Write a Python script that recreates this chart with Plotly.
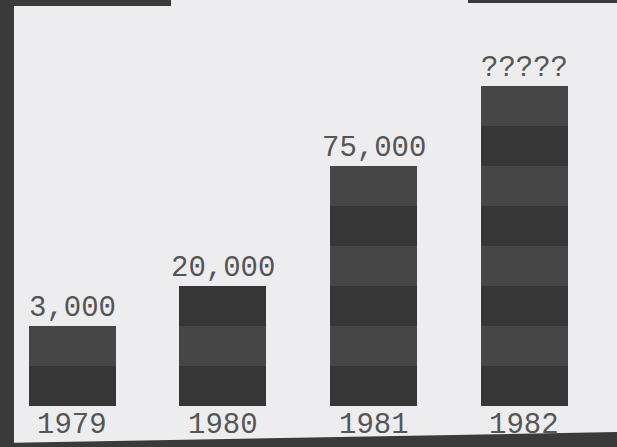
import plotly.graph_objects as go

years = [1979, 1980, 1981, 1982]
year_labels = ["1979", "1980", "1981", "1982"]
value_labels = ["3,000", "20,000", "75,000", "?????"]
bands = [2, 3, 6, 8]  # bar heights in stripe units

DARK = "#363636"
LIGHT = "#464646"
FRAME = "#3a3a3a"
BG = "#ededf0"
TXT = "#555555"
FONT = "Liberation Mono"

fig = go.Figure()
for k in range(max(bands)):
    fig.add_trace(go.Bar(
        x=years,
        y=[1 if b > k else 0 for b in bands],
        width=0.577,
        marker=dict(color=DARK if k % 2 == 0 else LIGHT, line=dict(width=0)),
        hoverinfo="skip",
        showlegend=False,
    ))

for yr, b, lab, ylab in zip(years, bands, value_labels, year_labels):
    fig.add_annotation(x=yr, y=b, text=lab, showarrow=False, yanchor="bottom",
                       yshift=-1, font=dict(family=FONT, size=29, color=TXT))
    fig.add_annotation(x=yr, y=0, text=ylab, showarrow=False, yanchor="top",
                       yshift=-1, font=dict(family=FONT, size=29, color=TXT))

# photo frame edges
fig.add_shape(type="rect", xref="paper", yref="paper", x0=0, x1=14/617, y0=0, y1=1,
              fillcolor=FRAME, line=dict(width=0), layer="below")
fig.add_shape(type="path", xref="paper", yref="paper",
              path="M 0 0 L 0 %f L 1 %f L 1 0 Z" % (4/447, 15/447),
              fillcolor=FRAME, line=dict(width=0), layer="below")
fig.add_shape(type="rect", xref="paper", yref="paper", x0=0, x1=171/617, y0=1-6/447, y1=1,
              fillcolor=FRAME, line=dict(width=0), layer="below")
fig.add_shape(type="rect", xref="paper", yref="paper", x0=468/617, x1=1, y0=1-3/447, y1=1,
              fillcolor=FRAME, line=dict(width=0), layer="below")

fig.update_layout(
    width=617, height=447,
    margin=dict(l=0, r=0, t=0, b=0),
    barmode="stack", bargap=0,
    paper_bgcolor=BG, plot_bgcolor=BG,
    xaxis=dict(range=[1978.5225, 1982.614], visible=False, fixedrange=True),
    yaxis=dict(range=[-1.025, 10.15], visible=False, fixedrange=True),
)

fig.write_html("out.html", config={"displayModeBar": False},
               post_script="document.body.style.margin='0';document.body.style.overflow='hidden';")
